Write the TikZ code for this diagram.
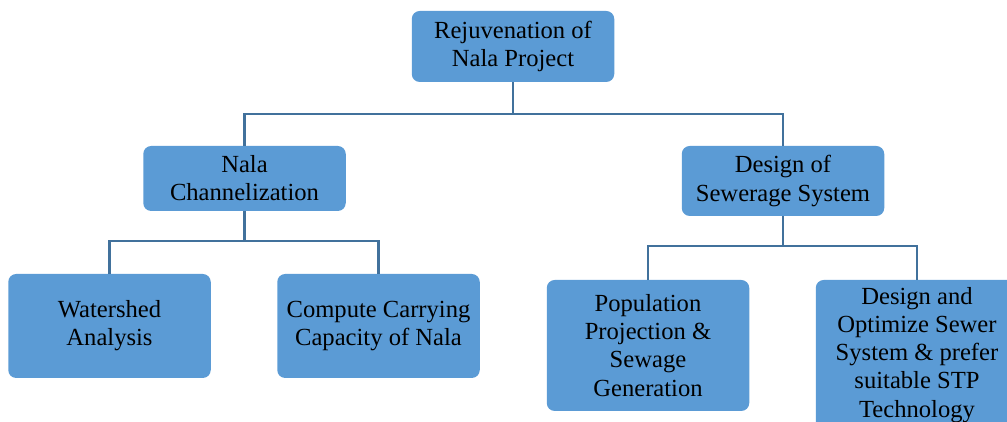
\documentclass[tikz,border=0pt]{standalone}
\usepackage{fontspec}
\setmainfont{Liberation Serif}
\usepackage{tikz}
\usetikzlibrary{positioning}
\definecolor{BoxBlue}{RGB}{91,155,213}
\definecolor{LineBlue}{RGB}{65,113,156}

\begin{document}
\begin{tikzpicture}[
  font=\fontsize{14}{16}\selectfont,
  task/.style={fill=BoxBlue, rounded corners=0.16cm, align=center,
    inner sep=0pt, minimum width=4.05cm},
  link/.style={draw=LineBlue, line width=1.4pt},
]
\clip (0,0) rectangle (20.14,8.44);

% Level 0
\node[task, minimum height=1.42cm] (rejuv) at (10.26,7.51){Rejuvenation of\\Nala Project};

% Level 1
\node[task, minimum height=1.30cm] (nala) at (4.89,4.87){Nala\\Channelization};
\node[task, minimum height=1.40cm] (sewer) at (15.66,4.82){Design of\\Sewerage System};

% Level 2
\node[task, minimum height=2.08cm] (watershed) at (2.19,1.92){Watershed\\Analysis};
\node[task, minimum height=2.08cm] (capacity) at (7.57,1.92){Compute Carrying\\Capacity of Nala};
\node[task, minimum height=2.62cm] (population) at (12.96,1.53){Population\\Projection \&\\Sewage\\Generation};
\node[task, minimum height=3.00cm] (optimize) at (18.34,1.34){Design and\\Optimize Sewer\\System \& prefer\\suitable STP\\Technology};

% Bus lines
\coordinate (bus1) at (10.26,6.16);
\coordinate (bus2) at (4.89,3.62);
\coordinate (bus3) at (15.66,3.52);

\draw[link] (rejuv.south) -- (bus1);
\draw[link] (nala.north) |- (bus1) -| (sewer.north);

\draw[link] (nala.south) -- (bus2);
\draw[link] (watershed.north) |- (bus2) -| (capacity.north);

\draw[link] (sewer.south) -- (bus3);
\draw[link] (population.north) |- (bus3) -| (optimize.north);

\end{tikzpicture}
\end{document}
